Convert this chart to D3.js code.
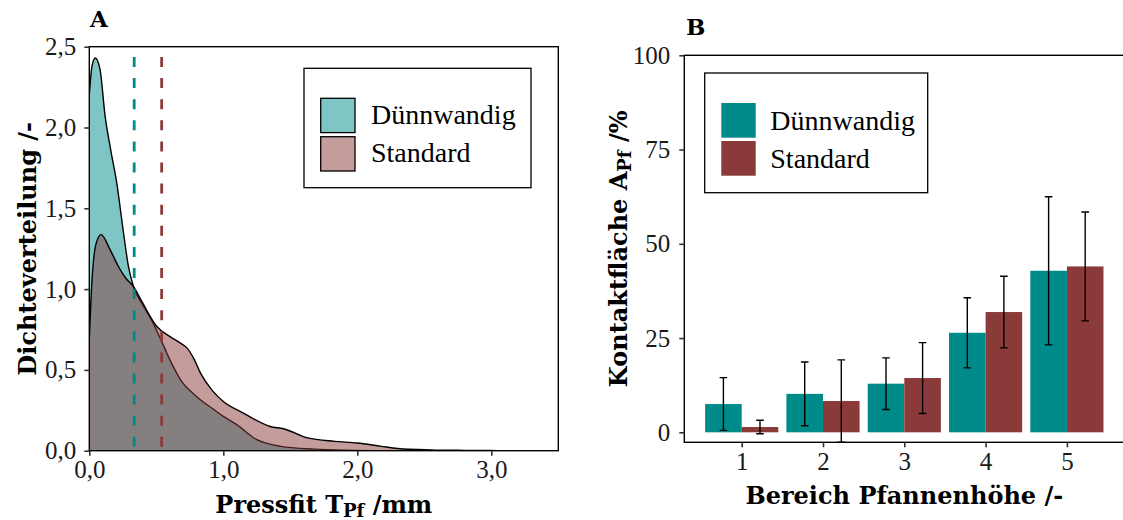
<!DOCTYPE html>
<html>
<head>
<meta charset="utf-8">
<script src="https://cdn.jsdelivr.net/npm/d3@7"></script>
<style>
  body { margin: 0; background: #fff; }
  svg { display: block; font-family: "Liberation Serif", serif; }
  .tick text { font-family: "Liberation Serif", serif; font-size: 25px; fill: #1a1a1a; }
  .tick line { stroke: #333; stroke-width: 1.6; }
  .domain { display: none; }
  .title { font-family: "DejaVu Serif", serif; font-weight: bold; font-size: 24px; fill: #000; }
  .legend text { font-family: "Liberation Serif", serif; font-size: 28px; fill: #000; }
</style>
</head>
<body>
<svg width="1123" height="520"></svg>
<script>
// Panel A: density estimates of the press-fit (mm)
const duennX = [0, 0.02, 0.045, 0.08, 0.118, 0.16, 0.205, 0.255, 0.292, 0.33, 0.4, 0.47, 0.54, 0.6, 0.68, 0.8, 0.93, 1.0, 1.1, 1.25, 1.43, 1.68, 1.9, 2.1];
const duennY = [2.2, 2.38, 2.43, 2.36, 2.07, 1.86, 1.656, 1.35, 1.14, 1.015, 0.9, 0.8, 0.676, 0.565, 0.44, 0.336, 0.254, 0.212, 0.161, 0.068, 0.027, 0.01, 0.003, 0];

const standardX = [0, 0.02, 0.05, 0.088, 0.155, 0.217, 0.27, 0.33, 0.392, 0.504, 0.6, 0.68, 0.73, 0.78, 0.83, 0.92, 1.0, 1.15, 1.35, 1.45, 1.63, 1.83, 2.0, 2.18, 2.3, 2.55, 2.8, 3.0, 3.1];
const standardY = [0.69, 1.05, 1.28, 1.337, 1.244, 1.14, 1.07, 1.015, 0.924, 0.769, 0.707, 0.666, 0.635, 0.57, 0.48, 0.37, 0.305, 0.233, 0.15, 0.136, 0.079, 0.058, 0.048, 0.027, 0.014, 0.005, 0.002, 0.001, 0];

const meanLines = [0.335, 0.54];

const xTicksA = [0, 1, 2, 3];
const yTicksA = [0, 0.5, 1, 1.5, 2, 2.5];

// Panel B: contact area per region
const bereich = [1, 2, 3, 4, 5];
const duennMean = [7.5, 10.2, 12.9, 26.4, 42.85];
const duennSd   = [7.0, 8.45, 6.85, 9.3, 19.65];
const standardMean = [1.4, 8.3, 14.4, 31.9, 44.0];
const standardSd   = [1.8, 10.9, 9.4, 9.5, 14.45];

const yTicksB = [0, 25, 50, 75, 100];

const groups = ["Dünnwandig", "Standard"];
const colors = {"Dünnwandig": "#008B8B", "Standard": "#8B3A3A"};

const svg = d3.select("svg");
const comma = d => d3.format(".1f")(d).replace(".", ",");

// ---------- panel A ----------
const xA = d3.scaleLinear().domain([0, 3.5]).range([89.3, 558.3]);
const yA = d3.scaleLinear().domain([0, 2.5]).range([450.7, 46.7]);

const gA = svg.append("g");

gA.append("clipPath").attr("id", "clipA")
  .append("rect")
  .attr("x", xA(0)).attr("y", yA(2.5))
  .attr("width", xA(3.5) - xA(0)).attr("height", yA(0) - yA(2.5));

const curves = [
  {name: "Dünnwandig", pts: duennX.map((x, i) => [x, duennY[i]])},
  {name: "Standard",   pts: standardX.map((x, i) => [x, standardY[i]])}
];

const area = d3.area()
  .curve(d3.curveMonotoneX)
  .x(d => xA(d[0]))
  .y0(yA(0))
  .y1(d => yA(d[1]));

const line = d3.line()
  .curve(d3.curveMonotoneX)
  .x(d => xA(d[0]))
  .y(d => yA(d[1]));

const plotA = gA.append("g").attr("clip-path", "url(#clipA)");

curves.forEach(function(c) {
  plotA.append("path")
    .datum(c.pts)
    .attr("d", area)
    .attr("fill", colors[c.name])
    .attr("fill-opacity", 0.5);

  plotA.append("path")
    .datum(c.pts)
    .attr("d", line)
    .attr("fill", "none")
    .attr("stroke", "#000")
    .attr("stroke-width", 1.4);
});

plotA.selectAll("line.mean")
  .data(meanLines)
  .enter()
  .append("line")
  .attr("class", "mean")
  .attr("x1", d => xA(d)).attr("x2", d => xA(d))
  .attr("y1", yA(2.5)).attr("y2", yA(0))
  .attr("stroke", (d, i) => colors[groups[i]])
  .attr("stroke-width", 2.8)
  .attr("stroke-dasharray", "10,11.1")
  .attr("stroke-dashoffset", 10.8);

gA.append("rect")
  .attr("x", xA(0)).attr("y", yA(2.5))
  .attr("width", xA(3.5) - xA(0)).attr("height", yA(0) - yA(2.5))
  .attr("fill", "none")
  .attr("stroke", "#000")
  .attr("stroke-width", 1.4);

gA.append("g")
  .attr("transform", `translate(${xA(0)},0)`)
  .call(d3.axisLeft(yA).tickValues(yTicksA).tickFormat(comma).tickSize(5).tickPadding(8));

gA.append("g")
  .attr("transform", `translate(0,${yA(0)})`)
  .call(d3.axisBottom(xA).tickValues(xTicksA).tickFormat(comma).tickSize(5).tickPadding(5));

gA.append("text")
  .attr("class", "title")
  .attr("x", 90).attr("y", 27)
  .style("font-size", "23px")
  .text("A");

const xTitleA = gA.append("text")
  .attr("class", "title")
  .attr("x", (xA(0) + xA(3.5)) / 2).attr("y", 513)
  .attr("text-anchor", "middle");
xTitleA.append("tspan").text("Pressfit T");
xTitleA.append("tspan").attr("dy", 4).style("font-size", "18px").text("Pf");
xTitleA.append("tspan").attr("dy", -4).text(" /mm");

gA.append("text")
  .attr("class", "title")
  .attr("transform", `translate(36,${(yA(0) + yA(2.5)) / 2}) rotate(-90)`)
  .attr("text-anchor", "middle")
  .text("Dichteverteilung /-");

const legA = gA.append("g").attr("class", "legend");
legA.append("rect")
  .attr("x", 304).attr("y", 68.3).attr("width", 227).attr("height", 119.4)
  .attr("fill", "#fff").attr("stroke", "#000").attr("stroke-width", 1.3);

groups.forEach(function(g, i) {
  legA.append("rect")
    .attr("x", 320.7).attr("y", 98.3 + i * 38.4)
    .attr("width", 34.3).attr("height", 34.3)
    .attr("fill", colors[g]).attr("fill-opacity", 0.5)
    .attr("stroke", "#000").attr("stroke-width", 1.3);
  legA.append("text")
    .attr("x", 371).attr("y", 124.3 + i * 37.4)
    .text(g);
});

// ---------- panel B ----------
const xB = d3.scaleLinear().domain([0.294, 5.706]).range([684.3, 1124.3]);
const yB = d3.scaleLinear().domain([-2.65, 100]).range([442.3, 55.3]);
const barW = 0.45;

const gB = svg.append("g");

gB.append("clipPath").attr("id", "clipB")
  .append("rect")
  .attr("x", xB(0.294)).attr("y", yB(100))
  .attr("width", xB(5.706) - xB(0.294)).attr("height", yB(-2.65) - yB(100));

const series = [
  {name: "Dünnwandig", mean: duennMean, sd: duennSd, offset: -barW},
  {name: "Standard",   mean: standardMean, sd: standardSd, offset: 0}
];

const plotB = gB.append("g").attr("clip-path", "url(#clipB)");

series.forEach(function(s) {
  const rows = bereich.map((b, i) => ({b: b, m: s.mean[i], sd: s.sd[i]}));

  plotB.selectAll(null)
    .data(rows)
    .enter()
    .append("rect")
    .attr("x", d => xB(d.b + s.offset))
    .attr("width", xB(barW) - xB(0))
    .attr("y", d => yB(d.m))
    .attr("height", d => yB(0) - yB(d.m))
    .attr("fill", colors[s.name]);
});

series.forEach(function(s) {
  const rows = bereich.map((b, i) => ({b: b, m: s.mean[i], sd: s.sd[i]}));
  const cx = d => xB(d.b + s.offset + barW / 2);

  const err = plotB.selectAll(null)
    .data(rows)
    .enter()
    .append("g")
    .attr("stroke", "#000")
    .attr("stroke-width", 1.4);

  err.append("line")
    .attr("x1", cx).attr("x2", cx)
    .attr("y1", d => yB(d.m - d.sd)).attr("y2", d => yB(d.m + d.sd));
  err.append("line")
    .attr("x1", d => cx(d) - 3.8).attr("x2", d => cx(d) + 3.8)
    .attr("y1", d => yB(d.m + d.sd)).attr("y2", d => yB(d.m + d.sd));
  err.append("line")
    .attr("x1", d => cx(d) - 3.8).attr("x2", d => cx(d) + 3.8)
    .attr("y1", d => yB(d.m - d.sd)).attr("y2", d => yB(d.m - d.sd));
});

gB.append("rect")
  .attr("x", xB(0.294)).attr("y", yB(100))
  .attr("width", xB(5.706) - xB(0.294)).attr("height", yB(-2.65) - yB(100))
  .attr("fill", "none")
  .attr("stroke", "#000")
  .attr("stroke-width", 1.4);

gB.append("g")
  .attr("transform", `translate(${xB(0.294)},0)`)
  .call(d3.axisLeft(yB).tickValues(yTicksB).tickFormat(d3.format("d")).tickSize(5).tickPadding(9));

gB.append("g")
  .attr("transform", `translate(0,${yB(-2.65)})`)
  .call(d3.axisBottom(xB).tickValues(bereich).tickFormat(d3.format("d")).tickSize(5).tickPadding(5));

gB.append("text")
  .attr("class", "title")
  .attr("x", 686).attr("y", 35)
  .style("font-size", "23px")
  .text("B");

gB.append("text")
  .attr("class", "title")
  .attr("x", (xB(0.294) + xB(5.706)) / 2).attr("y", 504)
  .attr("text-anchor", "middle")
  .text("Bereich Pfannenhöhe /-");

const yTitleB = gB.append("text")
  .attr("class", "title")
  .attr("transform", `translate(627,${(yB(-2.65) + yB(100)) / 2}) rotate(-90)`)
  .attr("text-anchor", "middle");
yTitleB.append("tspan").text("Kontaktfläche A");
yTitleB.append("tspan").attr("dy", 4).style("font-size", "18px").text("Pf");
yTitleB.append("tspan").attr("dy", -4).text(" /%");

const legB = gB.append("g").attr("class", "legend");
legB.append("rect")
  .attr("x", 704.7).attr("y", 73).attr("width", 223).attr("height", 119.7)
  .attr("fill", "#fff").attr("stroke", "#000").attr("stroke-width", 1.3);

groups.forEach(function(g, i) {
  legB.append("rect")
    .attr("x", 721.3).attr("y", 103 + i * 38)
    .attr("width", 34.4).attr("height", 34.7)
    .attr("fill", colors[g]);
  legB.append("text")
    .attr("x", 770.3).attr("y", 130 + i * 38.3)
    .text(g);
});
</script>
</body>
</html>
